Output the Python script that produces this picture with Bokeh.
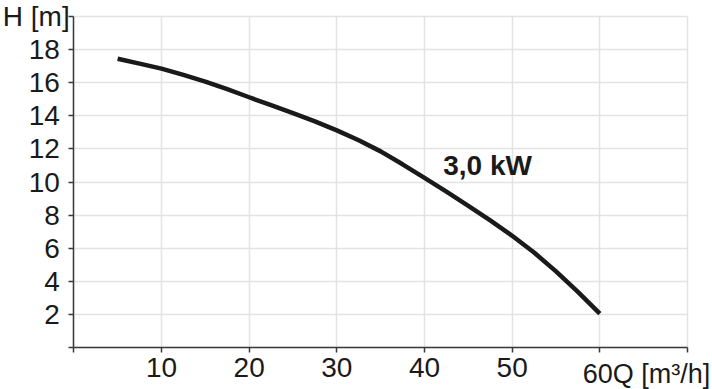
from bokeh.plotting import figure
from bokeh.models import FixedTicker, Label, Range1d
from bokeh.embed import file_html
from bokeh.resources import INLINE

# Data
flow_q = [5, 7.5, 10, 12.5, 15, 17.5, 20, 22.5, 25, 27.5, 30, 32.5,
          35, 37.5, 40, 42.5, 45, 47.5, 50, 52.5, 55, 57.5, 60]
head_h = [17.45, 17.15, 16.85, 16.47, 16.07, 15.61, 15.12, 14.64, 14.16, 13.66, 13.12, 12.52,
          11.85, 11.07, 10.25, 9.42, 8.56, 7.68, 6.75, 5.74, 4.6, 3.36, 2.05]
x_ticks = [0, 10, 20, 30, 40, 50, 60, 70]
y_ticks = [0, 2, 4, 6, 8, 10, 12, 14, 16, 18, 20]
curve_label = "3,0 kW"
y_title = "H [m]"
x_title = "60Q [m³/h]"

FONT = "Liberation Sans"

# layout (pixels) of the plotting area inside the 712x389 canvas
W, H = 712, 389
FL, FR, FT, FB = 73.3, 687.0, 16.0, 347.0
X0, X1, Y0, Y1 = 0, 70, 0, 20
xs = (X1 - X0) / (FR - FL)
ys = (Y1 - Y0) / (FB - FT)

p = figure(width=W, height=H, output_backend="svg", toolbar_location=None,
           x_range=Range1d(X0 - FL * xs, X1 + (W - FR) * xs),
           y_range=Range1d(Y0 - (H - FB) * ys, Y1 + FT * ys),
           min_border_left=0, min_border_right=0, min_border_top=0, min_border_bottom=0)
p.outline_line_color = None
p.background_fill_color = "white"
p.border_fill_color = "white"

for ax in (p.xaxis[0], p.yaxis[0]):
    ax.axis_line_color = "#3a3a3a"
    ax.axis_line_width = 1.5
    ax.major_tick_line_color = "#3a3a3a"
    ax.major_tick_line_width = 1.5
    ax.major_tick_out = 5
    ax.major_tick_in = 0
    ax.minor_tick_line_color = None
    ax.major_label_text_font = FONT
    ax.major_label_text_font_size = "28px"
    ax.major_label_text_color = "#1a1a1a"
    ax.fixed_location = 0

p.xaxis.bounds = (X0, X1)
p.yaxis.bounds = (Y0, Y1)
p.xaxis.ticker = FixedTicker(ticks=x_ticks)
p.yaxis.ticker = FixedTicker(ticks=y_ticks)
p.xaxis.major_label_overrides = {0: "", 60: "", 70: ""}
p.yaxis.major_label_overrides = {0: "", 20: ""}
p.xaxis.major_label_standoff = 5
p.yaxis.major_label_standoff = 9

p.xgrid.ticker = FixedTicker(ticks=x_ticks)
p.ygrid.ticker = FixedTicker(ticks=y_ticks)
p.xgrid.bounds = (X0, X1)
p.ygrid.bounds = (Y0, Y1)
p.xgrid.cross_bounds = (Y0, Y1)
p.ygrid.cross_bounds = (X0, X1)
p.grid.grid_line_color = "#e3e3e3"
p.grid.grid_line_width = 1.5

p.line(flow_q, head_h, line_color="#1a1a1a", line_width=4.5, line_cap="butt", line_join="round")

p.add_layout(Label(x=47.2, y=11.0, text=curve_label, text_font=FONT, text_font_style="bold",
                   text_font_size="28px", text_color="#1a1a1a",
                   text_align="center", text_baseline="middle"))
p.add_layout(Label(x=0, y=20, x_offset=-71, y_offset=0, text=y_title, text_font=FONT,
                   text_font_size="28px", text_color="#1a1a1a",
                   text_align="left", text_baseline="middle"))
p.add_layout(Label(x=60, y=0, x_offset=-17, y_offset=-11, text=x_title, text_font=FONT,
                   text_font_size="27px", text_color="#1a1a1a",
                   text_align="left", text_baseline="top"))

open("out.html", "w").write(file_html(p, INLINE))
